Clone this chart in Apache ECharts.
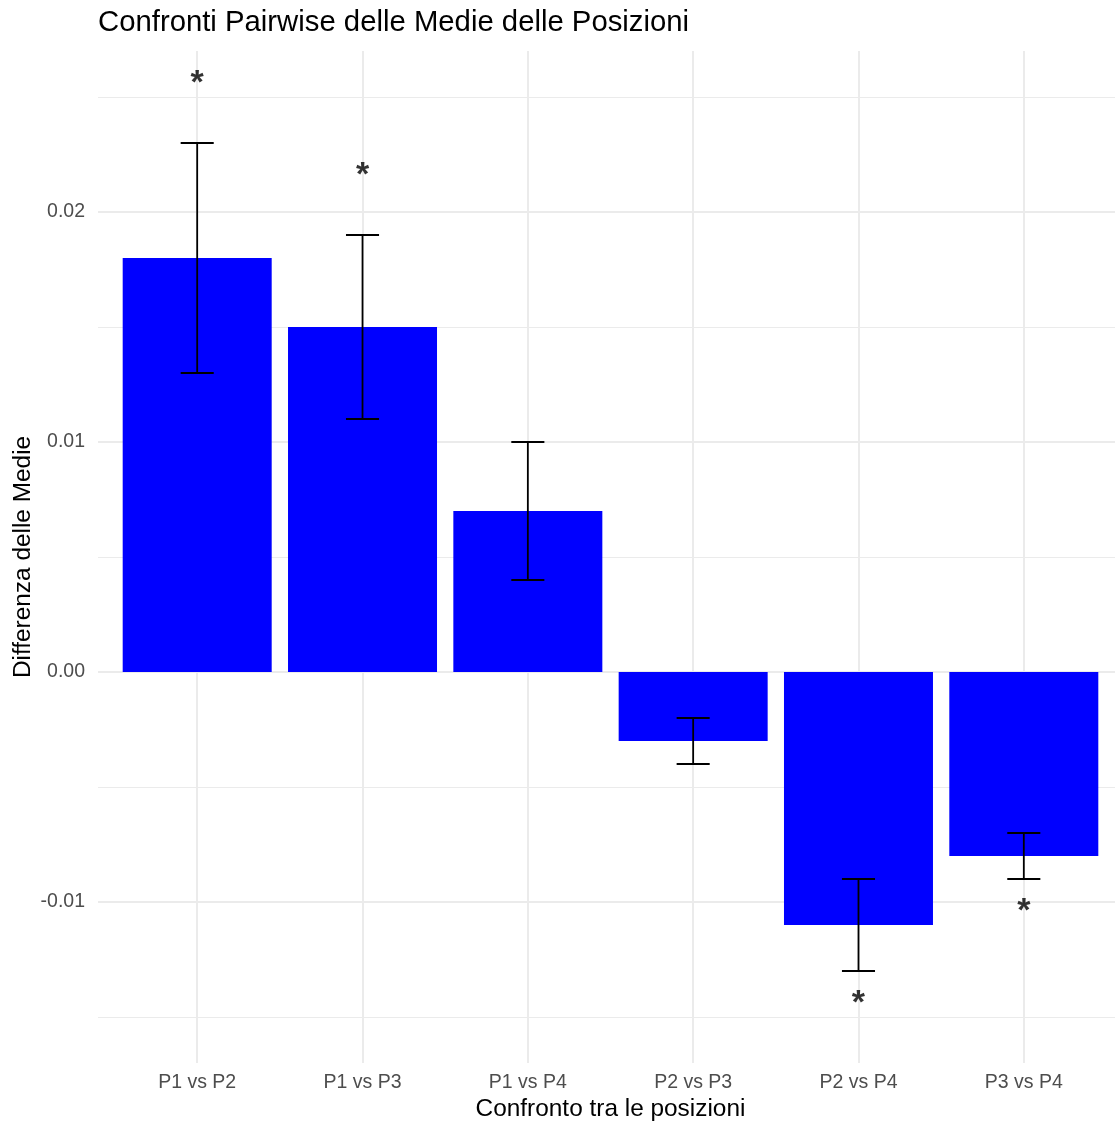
<!DOCTYPE html>
<html>
<head>
<meta charset="utf-8">
<script src="https://cdn.jsdelivr.net/npm/echarts@6/dist/echarts.min.js"></script>
<style>
  html, body { margin: 0; padding: 0; background: #fff; }
  #chart { width: 1115px; height: 1122px; }
</style>
</head>
<body>
<div id="chart"></div>
<script>
// confronti tra le posizioni
var categories = ['P1 vs P2', 'P1 vs P3', 'P1 vs P4', 'P2 vs P3', 'P2 vs P4', 'P3 vs P4'];
// differenza delle medie
var diffs = [0.018, 0.015, 0.007, -0.003, -0.011, -0.008];
// intervallo di confidenza
var lowers = [0.013, 0.011, 0.004, -0.004, -0.013, -0.009];
var uppers = [0.023, 0.019, 0.010, -0.002, -0.009, -0.007];
// asterischi di significatività
var sigLabels = ['*', '*', '', '', '*', '*'];
var sigPos = [0.025, 0.021, null, null, -0.015, -0.011];
// tick dell'asse y
var yMajor = [-0.01, 0, 0.01, 0.02];
var yMinor = [-0.015, -0.005, 0.005, 0.015, 0.025];
var xTicks = [0, 1, 2, 3, 4, 5];

var FONT = 'Liberation Sans, Arial, Helvetica, sans-serif';

var barData = diffs.map(function (v, i) { return [i, v]; });
var errData = lowers.map(function (v, i) { return [i, v, uppers[i]]; });
var starData = [];
sigPos.forEach(function (v, i) {
    if (v !== null) starData.push({value: [i, v], label: sigLabels[i]});
});

var myChart = echarts.init(document.getElementById('chart'));

var option = {
    backgroundColor: '#ffffff',
    animation: false,
    title: {
        text: 'Confronti Pairwise delle Medie delle Posizioni',
        left: 93,
        top: 3,
        textStyle: {fontFamily: FONT, fontSize: 29.3, fontWeight: 'normal', color: '#000'}
    },
    // il pannello originale esce a destra dall'immagine
    grid: {left: 98, top: 51, width: 1025, height: 1012, outerBoundsMode: 'none'},
    xAxis: {
        type: 'value',
        min: -0.6,
        max: 5.6,
        name: 'Confronto tra le posizioni',
        nameLocation: 'middle',
        nameGap: 34,
        nameMoveOverlap: false,
        nameTextStyle: {fontFamily: FONT, fontSize: 24.4, color: '#000'},
        axisLine: {show: false},
        axisTick: {show: false, customValues: xTicks},
        axisLabel: {
            customValues: xTicks,
            margin: 10,
            fontFamily: FONT, fontSize: 19.5, color: '#4d4d4d',
            formatter: function (v) { return categories[Math.round(v)]; }
        },
        splitLine: {show: true, lineStyle: {color: '#ebebeb', width: 2}}
    },
    yAxis: [{
        type: 'value',
        min: -0.017,
        max: 0.027,
        name: 'Differenza delle Medie',
        nameLocation: 'middle',
        nameGap: 63,
        nameMoveOverlap: false,
        nameTextStyle: {fontFamily: FONT, fontSize: 24.4, color: '#000'},
        axisLine: {show: false},
        axisTick: {show: false, customValues: yMajor},
        axisLabel: {
            customValues: yMajor,
            margin: 13,
            fontFamily: FONT, fontSize: 19.5, color: '#4d4d4d',
            formatter: function (v) { return v.toFixed(2); }
        },
        splitLine: {show: true, lineStyle: {color: '#ebebeb', width: 2}}
    }, {
        type: 'value',
        min: -0.017,
        max: 0.027,
        position: 'left',
        axisLine: {show: false},
        axisTick: {show: false, customValues: yMinor},
        axisLabel: {show: false},
        splitLine: {show: true, lineStyle: {color: '#ebebeb', width: 1}}
    }],
    series: [
        {
            type: 'bar',
            data: barData,
            barWidth: 149,
            itemStyle: {color: '#0000ff'},
            z: 2
        },
        {
            type: 'custom',
            data: errData,
            z: 3,
            renderItem: function (params, api) {
                var x = api.value(0);
                var lo = api.coord([x, api.value(1)]);
                var hi = api.coord([x, api.value(2)]);
                var half = api.size([0.2, 0])[0] / 2;
                var style = {stroke: '#000', lineWidth: 1.8, fill: null};
                return {
                    type: 'group',
                    children: [
                        {type: 'line', shape: {x1: lo[0], y1: lo[1], x2: hi[0], y2: hi[1]}, style: style},
                        {type: 'line', shape: {x1: hi[0] - half, y1: hi[1], x2: hi[0] + half, y2: hi[1]}, style: style},
                        {type: 'line', shape: {x1: lo[0] - half, y1: lo[1], x2: lo[0] + half, y2: lo[1]}, style: style}
                    ]
                };
            }
        },
        {
            type: 'scatter',
            data: starData,
            symbolSize: 0,
            z: 4,
            label: {
                show: true,
                position: 'inside',
                offset: [0, -13],
                formatter: function (p) { return p.data.label; },
                fontFamily: FONT, fontSize: 34, fontWeight: 'bold', color: '#000'
            }
        }
    ]
};
myChart.setOption(option);
</script>
</body>
</html>
